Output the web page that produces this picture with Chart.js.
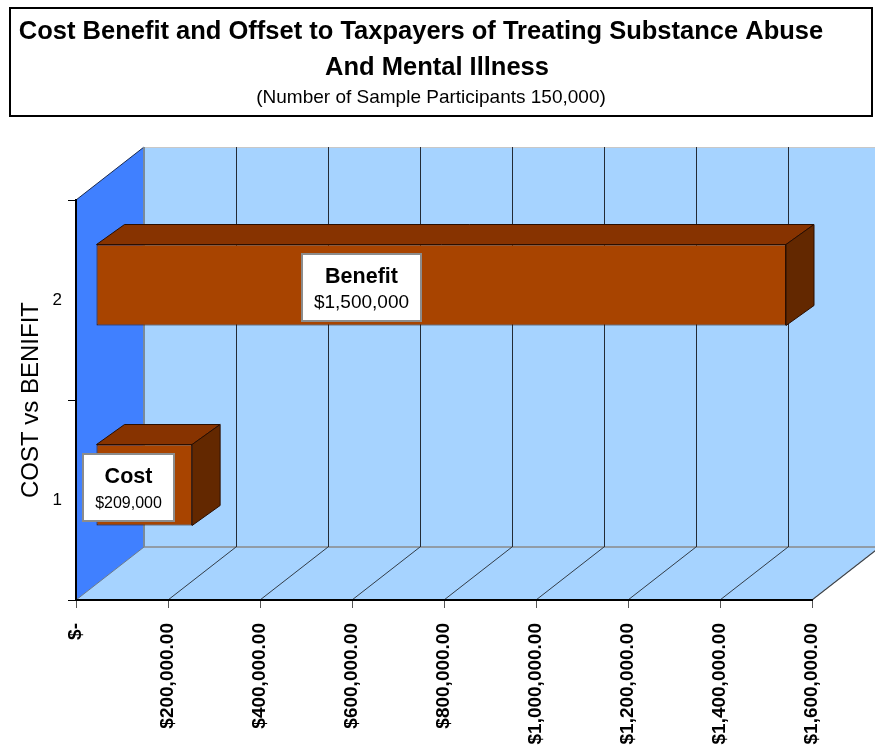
<!DOCTYPE html>
<html>
<head>
<meta charset="utf-8">
<script src="https://cdn.jsdelivr.net/npm/chart.js@4/dist/chart.umd.min.js"></script>
<style>
html,body{margin:0;padding:0;background:#fff;}
#wrap{width:875px;height:748px;}
</style>
</head>
<body>
<div id="wrap"><canvas id="c" width="875" height="748"></canvas></div>
<script>
// ---------- data ----------
const categories = ['1', '2'];
const barNames = ['Cost', 'Benefit'];
const values = [209000, 1500000];
const xTickLabels = ['$-', '$200,000.00', '$400,000.00', '$600,000.00', '$800,000.00',
  '$1,000,000.00', '$1,200,000.00', '$1,400,000.00', '$1,600,000.00'];
const titleLines = ['Cost Benefit and Offset to Taxpayers of Treating Substance Abuse', 'And Mental Illness'];
const subtitleText = '(Number of Sample Participants 150,000)';
const yAxisTitle = 'COST vs BENIFIT';

// ---------- styling ----------
const FONT = "'Liberation Sans', Arial, Helvetica, sans-serif";
const DEPTH = {dx: 68, dy: -53};        // 3D depth of the plot box
const BAR_FRONT = {dx: 20, dy: -15};    // bar front face offset into the depth
const BAR_DEPTH = {dx: 28, dy: -20};    // bar thickness in depth
const labelAnchor = [0.333, 0.384];     // label centre along each bar front face
const labelValueSize = [16, 19];
const TITLE_STYLE = [
  {font: 'bold 25.5px ' + FONT, cx: 421, base: 39},
  {font: 'bold 25.5px ' + FONT, cx: 437, base: 75}
];
const SUB_STYLE = {font: '19px ' + FONT, cx: 431, base: 103};
const COLORS = {
  wall: '#A6D3FF', floor: '#A6D3FF', side: '#4080FF',
  front: '#A84400', top: '#873300', right: '#632800', edge: '#2a0e00'
};

function poly(ctx, pts, fill, stroke, lw) {
  ctx.beginPath();
  ctx.moveTo(pts[0][0], pts[0][1]);
  for (let i = 1; i < pts.length; i++) ctx.lineTo(pts[i][0], pts[i][1]);
  ctx.closePath();
  if (fill) { ctx.fillStyle = fill; ctx.fill(); }
  if (stroke) { ctx.strokeStyle = stroke; ctx.lineWidth = lw || 1; ctx.stroke(); }
}
function line(ctx, x1, y1, x2, y2, color, lw) {
  ctx.beginPath(); ctx.moveTo(x1, y1); ctx.lineTo(x2, y2);
  ctx.strokeStyle = color; ctx.lineWidth = lw || 1; ctx.stroke();
}

const threeD = {
  id: 'threeD',
  beforeDraw(chart) {
    const ctx = chart.ctx;
    const xs = chart.scales.x, ys = chart.scales.y;
    const L = xs.left, R = xs.right, T = ys.top, B = ys.bottom;
    const {dx, dy} = DEPTH;
    ctx.save();
    ctx.fillStyle = '#fff';
    ctx.fillRect(0, 0, chart.width, chart.height);
    // title frame and title text
    ctx.strokeStyle = '#000'; ctx.lineWidth = 2;
    ctx.strokeRect(10, 8, 862, 108);
    ctx.fillStyle = '#000';
    ctx.textAlign = 'center'; ctx.textBaseline = 'alphabetic';
    titleLines.forEach((txt, i) => {
      ctx.font = TITLE_STYLE[i].font;
      ctx.fillText(txt, TITLE_STYLE[i].cx, TITLE_STYLE[i].base);
    });
    ctx.font = SUB_STYLE.font;
    ctx.fillText(subtitleText, SUB_STYLE.cx, SUB_STYLE.base);
    // back wall
    ctx.fillStyle = COLORS.wall;
    ctx.fillRect(L + dx, T + dy, R - L, B - T);
    line(ctx, L + dx, T + dy + 0.5, R + dx, T + dy + 0.5, '#c8c8c8', 1);
    // floor
    poly(ctx, [[L, B], [R, B], [R + dx, B + dy], [L + dx, B + dy]], COLORS.floor);
    line(ctx, L + dx, B + dy, R + dx, B + dy, '#8a8a8a', 1.5);
    line(ctx, R, B, R + dx, B + dy, '#8a8a8a', 1.5);
    // left wall
    poly(ctx, [[L, T], [L + dx, T + dy], [L + dx, B + dy], [L, B]], COLORS.side);
    line(ctx, L, T, L + dx, T + dy, '#1a2a50', 1);
    line(ctx, L + dx, T + dy, L + dx, B + dy, '#7a8a9a', 2);
    line(ctx, L, B, L + dx, B + dy, '#6a7a8a', 1);
    // gridlines on back wall and floor
    xs.ticks.forEach(t => {
      if (t.value === 0) return;
      const px = xs.getPixelForValue(t.value);
      line(ctx, px + dx + 0.5, T + dy, px + dx + 0.5, B + dy, '#232b36', 1);
      line(ctx, px, B, px + dx, B + dy, '#333d48', 1);
    });
    ctx.restore();
  },
  beforeDatasetDraw(chart) {
    chart.ctx.save();
    chart.ctx.translate(BAR_FRONT.dx, BAR_FRONT.dy);
  },
  afterDatasetDraw(chart, args) {
    const ctx = chart.ctx;
    ctx.restore();
    ctx.save();
    args.meta.data.forEach(el => {
      const p = el.getProps(['x', 'y', 'base', 'height'], true);
      const l = Math.min(p.x, p.base) + BAR_FRONT.dx;
      const r = Math.max(p.x, p.base) + BAR_FRONT.dx;
      const t = p.y - p.height / 2 + BAR_FRONT.dy;
      const b = p.y + p.height / 2 + BAR_FRONT.dy;
      const {dx, dy} = BAR_DEPTH;
      poly(ctx, [[l, t], [r, t], [r + dx, t + dy], [l + dx, t + dy]], COLORS.top, COLORS.edge, 1);
      poly(ctx, [[r, t], [r + dx, t + dy], [r + dx, b + dy], [r, b]], COLORS.right, COLORS.edge, 1);
    });
    ctx.restore();
  },
  afterDatasetsDraw(chart) {
    const ctx = chart.ctx;
    const meta = chart.getDatasetMeta(0);
    ctx.save();
    meta.data.forEach((el, i) => {
      const p = el.getProps(['x', 'y', 'base', 'height'], true);
      const l = Math.min(p.x, p.base) + BAR_FRONT.dx;
      const r = Math.max(p.x, p.base) + BAR_FRONT.dx;
      const cy = p.y + BAR_FRONT.dy + 2;
      const cx = l + labelAnchor[i] * (r - l);
      const name = barNames[i];
      const val = '$' + values[i].toLocaleString('en-US');
      ctx.font = 'bold 21.5px ' + FONT;
      const w1 = ctx.measureText(name).width;
      ctx.font = labelValueSize[i] + 'px ' + FONT;
      const w2 = ctx.measureText(val).width;
      const bw = Math.round(Math.max(w1, w2) + 26), bh = 69;
      const bx = Math.round(cx - bw / 2), by = Math.round(cy - bh / 2);
      ctx.fillStyle = '#fff';
      ctx.fillRect(bx, by, bw, bh);
      ctx.strokeStyle = '#8c8c8c'; ctx.lineWidth = 2;
      ctx.strokeRect(bx + 1, by + 1, bw - 2, bh - 2);
      ctx.fillStyle = '#000';
      ctx.textAlign = 'center'; ctx.textBaseline = 'alphabetic';
      ctx.font = 'bold 21.5px ' + FONT;
      ctx.fillText(name, bx + bw / 2, by + 30);
      ctx.font = labelValueSize[i] + 'px ' + FONT;
      ctx.fillText(val, bx + bw / 2, by + 55);
    });
    ctx.restore();
  }
};

Chart.defaults.font.family = FONT;
Chart.defaults.color = '#000';

new Chart(document.getElementById('c'), {
  type: 'bar',
  data: {
    labels: categories,
    datasets: [{
      data: values,
      backgroundColor: COLORS.front,
      borderColor: COLORS.edge,
      borderWidth: 1,
      borderSkipped: false,
      barPercentage: 0.405,
      categoryPercentage: 1,
      clip: false
    }]
  },
  options: {
    indexAxis: 'y',
    responsive: false,
    animation: false,
    devicePixelRatio: 1,
    layout: {padding: {top: 200, right: 0, bottom: 0, left: 0}},
    plugins: {
      legend: {display: false},
      tooltip: {enabled: false},
      title: {display: false},
      subtitle: {display: false}
    },
    scales: {
      x: {
        type: 'linear',
        position: 'bottom',
        min: 0,
        max: 1600000,
        afterFit: s => { s.height = 148; },
        grid: {display: true, drawOnChartArea: false, drawTicks: true, tickLength: 8, tickColor: '#555', color: '#555'},
        border: {display: true, color: '#000', width: 2},
        ticks: {
          stepSize: 200000,
          autoSkip: false,
          minRotation: 90,
          maxRotation: 90,
          padding: 15,
          color: '#000',
          font: {family: FONT, size: 19, weight: 'bold'},
          callback: (v, i) => xTickLabels[i]
        }
      },
      y: {
        type: 'category',
        position: 'left',
        reverse: true,
        afterFit: s => { s.width = 76; },
        grid: {display: true, drawOnChartArea: false, drawTicks: true, tickLength: 8, tickColor: '#000', color: '#000', offset: true},
        border: {display: true, color: '#000', width: 2},
        ticks: {padding: 6, color: '#000', font: {family: FONT, size: 17}},
        title: {
          display: true,
          text: yAxisTitle,
          color: '#000',
          font: {family: FONT, size: 24, weight: 'normal', lineHeight: 1.2},
          padding: {top: 17, bottom: 0}
        }
      },
      yR: {
        type: 'linear',
        position: 'right',
        display: true,
        afterFit: s => { s.width = 63; },
        grid: {display: false, drawTicks: false},
        border: {display: false},
        ticks: {display: false}
      }
    }
  },
  plugins: [threeD]
});
</script>
</body>
</html>
